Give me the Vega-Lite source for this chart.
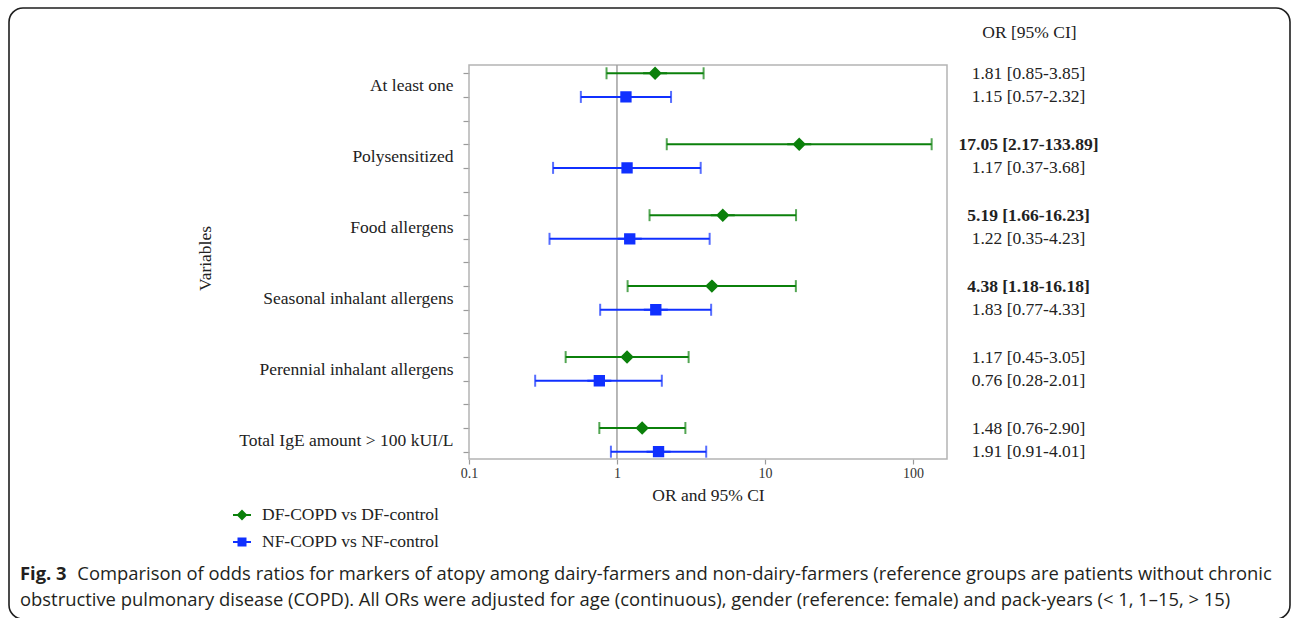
{
  "$schema": "https://vega.github.io/schema/vega-lite/v6.json",
  "width": 1281,
  "height": 611,
  "autosize": {"type": "none"},
  "padding": {"left": 9, "top": 8, "right": 2, "bottom": 0},
  "background": "white",
  "config": {
    "view": {"stroke": "#1e1e1e", "strokeWidth": 1.6, "cornerRadius": 14, "fill": "white"},
    "font": "Liberation Serif"
  },
  "title": {
    "text": "Fig. 3",
    "subtitle": [
      "\u200b\u00a0\u00a0\u00a0\u00a0\u00a0\u00a0\u00a0\u00a0\u00a0\u00a0\u00a0\u00a0Comparison of odds ratios for markers of atopy among dairy-farmers and non-dairy-farmers (reference groups are patients without chronic",
      "obstructive pulmonary disease (COPD). All ORs were adjusted for age (continuous), gender (reference: female) and pack-years (< 1, 1\u201315, > 15)"
    ],
    "orient": "bottom",
    "anchor": "start",
    "frame": "group",
    "offset": -54,
    "dx": 11,
    "font": "Open Sans",
    "fontWeight": "bold",
    "fontSize": 18.4,
    "color": "#231f20",
    "subtitleFont": "Open Sans",
    "subtitleFontSize": 18.4,
    "subtitleFontWeight": "normal",
    "subtitleColor": "#231f20",
    "subtitleLineHeight": 26,
    "subtitlePadding": -18.4
  },
  "data": {
    "values": [
      {"variable": "At least one", "comparison": "DF-COPD vs DF-control", "row": 1, "or": 1.81, "lo": 0.85, "hi": 3.85},
      {"variable": "At least one", "comparison": "NF-COPD vs NF-control", "row": 2, "or": 1.15, "lo": 0.57, "hi": 2.32},
      {"variable": "Polysensitized", "comparison": "DF-COPD vs DF-control", "row": 4, "or": 17.05, "lo": 2.17, "hi": 133.89},
      {"variable": "Polysensitized", "comparison": "NF-COPD vs NF-control", "row": 5, "or": 1.17, "lo": 0.37, "hi": 3.68},
      {"variable": "Food allergens", "comparison": "DF-COPD vs DF-control", "row": 7, "or": 5.19, "lo": 1.66, "hi": 16.23},
      {"variable": "Food allergens", "comparison": "NF-COPD vs NF-control", "row": 8, "or": 1.22, "lo": 0.35, "hi": 4.23},
      {"variable": "Seasonal inhalant allergens", "comparison": "DF-COPD vs DF-control", "row": 10, "or": 4.38, "lo": 1.18, "hi": 16.18},
      {"variable": "Seasonal inhalant allergens", "comparison": "NF-COPD vs NF-control", "row": 11, "or": 1.83, "lo": 0.77, "hi": 4.33},
      {"variable": "Perennial inhalant allergens", "comparison": "DF-COPD vs DF-control", "row": 13, "or": 1.17, "lo": 0.45, "hi": 3.05},
      {"variable": "Perennial inhalant allergens", "comparison": "NF-COPD vs NF-control", "row": 14, "or": 0.76, "lo": 0.28, "hi": 2.01},
      {"variable": "Total IgE amount > 100 kUI/L", "comparison": "DF-COPD vs DF-control", "row": 16, "or": 1.48, "lo": 0.76, "hi": 2.90},
      {"variable": "Total IgE amount > 100 kUI/L", "comparison": "NF-COPD vs NF-control", "row": 17, "or": 1.91, "lo": 0.91, "hi": 4.01}
    ]
  },
  "resolve": {
    "axis": {"x": "independent", "y": "independent"},
    "legend": {"color": "independent", "fill": "independent", "stroke": "independent", "shape": "independent"}
  },
  "layer": [
    {
      "data": {"values": [{}]},
      "mark": {"type": "rect", "fill": "transparent", "stroke": "#b4b4b4", "strokeWidth": 1.5},
      "encoding": {
        "x": {"datum": 0.1, "type": "quantitative", "scale": {"type": "log", "domain": [0.1, 170], "range": [460, 938], "nice": false}, "axis": null},
        "x2": {"datum": 170},
        "y": {"datum": 0.65, "type": "quantitative", "scale": {"type": "linear", "domain": [0.65, 17.31], "range": [57, 451], "nice": false, "zero": false}, "axis": null},
        "y2": {"datum": 17.31}
      }
    },
    {
      "data": {"values": [{}]},
      "mark": {"type": "rule", "color": "#a0a0a0", "strokeWidth": 1.5},
      "encoding": {
        "x": {"datum": 1, "type": "quantitative", "scale": {"type": "log", "domain": [0.1, 170], "range": [460, 938], "nice": false}, "axis": null},
        "y": {"datum": 0.65, "type": "quantitative", "scale": {"type": "linear", "domain": [0.65, 17.31], "range": [57, 451], "nice": false, "zero": false}, "axis": null},
        "y2": {"datum": 17.31}
      }
    },
    {
      "mark": {"type": "rule", "strokeWidth": 2},
      "encoding": {
        "x": {
          "field": "lo", "type": "quantitative",
          "scale": {"type": "log", "domain": [0.1, 170], "range": [460, 938], "nice": false},
          "axis": {
            "orient": "bottom", "offset": -160, "values": [0.1, 1, 10, 100],
            "labelExpr": "datum.value < 0.5 ? '0.1' : format(datum.value, 'd')",
            "domain": false, "grid": false, "ticks": true, "tickSize": 5, "tickColor": "#9a9a9a", "tickWidth": 1.2,
            "labelFont": "Liberation Serif", "labelFontSize": 14, "labelColor": "#333", "labelPadding": 2,
            "labelFlush": false, "labelOverlap": false, "labelBound": false,
            "title": "OR and 95% CI", "titleFont": "Liberation Serif", "titleFontSize": 17.5, "titleFontWeight": "normal",
            "titleColor": "#222", "titleY": 36, "titleBaseline": "middle"
          }
        },
        "x2": {"field": "hi"},
        "y": {
          "field": "row", "type": "quantitative",
          "scale": {"type": "linear", "domain": [0.65, 17.31], "range": [57, 451], "nice": false, "zero": false},
          "axis": {
            "orient": "left", "offset": -460,
            "values": [1, 2, 3, 4, 5, 6, 7, 8, 9, 10, 11, 12, 13, 14, 15, 16, 17],
            "labelExpr": "['', 'At least one', '', '', 'Polysensitized', '', '', 'Food allergens', '', '', 'Seasonal inhalant allergens', '', '', 'Perennial inhalant allergens', '', '', 'Total IgE amount > 100 kUI/L', ''][datum.value]",
            "labelOffset": 12, "labelPadding": 10, "labelFont": "Liberation Serif", "labelFontSize": 17.5, "labelColor": "#222",
            "labelFlush": false, "labelOverlap": false, "labelBound": false, "labelLimit": 400,
            "domain": false, "grid": false, "tickSize": 6, "tickColor": "#9a9a9a", "tickWidth": 1.2,
            "title": "Variables", "titleFont": "Liberation Serif", "titleFontSize": 17.5, "titleFontWeight": "normal", "titleColor": "#222",
            "titleAngle": -90, "titleX": -264, "titleY": 250, "titleAlign": "center", "titleBaseline": "middle"
          }
        },
        "color": {"field": "comparison", "type": "nominal", "scale": {"domain": ["DF-COPD vs DF-control", "NF-COPD vs NF-control"], "range": ["#0b800b", "#1030ff"]}, "legend": null}
      }
    },
    {
      "mark": {"type": "tick", "orient": "vertical", "size": 12, "thickness": 2},
      "encoding": {
        "x": {"field": "lo", "type": "quantitative", "scale": {"type": "log", "domain": [0.1, 170], "range": [460, 938], "nice": false}, "axis": null},
        "y": {"field": "row", "type": "quantitative", "scale": {"type": "linear", "domain": [0.65, 17.31], "range": [57, 451], "nice": false, "zero": false}, "axis": null},
        "color": {"field": "comparison", "type": "nominal", "scale": {"domain": ["DF-COPD vs DF-control", "NF-COPD vs NF-control"], "range": ["#0b800b", "#1030ff"]}, "legend": null}
      }
    },
    {
      "mark": {"type": "tick", "orient": "vertical", "size": 12, "thickness": 2},
      "encoding": {
        "x": {"field": "hi", "type": "quantitative", "scale": {"type": "log", "domain": [0.1, 170], "range": [460, 938], "nice": false}, "axis": null},
        "y": {"field": "row", "type": "quantitative", "scale": {"type": "linear", "domain": [0.65, 17.31], "range": [57, 451], "nice": false, "zero": false}, "axis": null},
        "color": {"field": "comparison", "type": "nominal", "scale": {"domain": ["DF-COPD vs DF-control", "NF-COPD vs NF-control"], "range": ["#0b800b", "#1030ff"]}, "legend": null}
      }
    },
    {
      "mark": {"type": "point", "filled": true, "opacity": 1, "size": 711, "strokeWidth": 2},
      "encoding": {
        "x": {"field": "or", "type": "quantitative", "scale": {"type": "log", "domain": [0.1, 170], "range": [460, 938], "nice": false}, "axis": null},
        "y": {
          "field": "row", "type": "quantitative",
          "scale": {"type": "linear", "domain": [0.65, 17.31], "range": [57, 451], "nice": false, "zero": false},
          "axis": {
            "orient": "right", "offset": -343,
            "values": [1, 2, 4, 5, 7, 8, 10, 11, 13, 14, 16, 17],
            "labelExpr": "['', '1.81 [0.85-3.85]', '1.15 [0.57-2.32]', '', '17.05 [2.17-133.89]', '1.17 [0.37-3.68]', '', '5.19 [1.66-16.23]', '1.22 [0.35-4.23]', '', '4.38 [1.18-16.18]', '1.83 [0.77-4.33]', '', '1.17 [0.45-3.05]', '0.76 [0.28-2.01]', '', '1.48 [0.76-2.90]', '1.91 [0.91-4.01]'][datum.value]",
            "labelFontWeight": {"condition": {"test": "datum.value == 4 || datum.value == 7 || datum.value == 10", "value": "bold"}, "value": "normal"},
            "labelAlign": "center", "labelBaseline": "middle", "labelPadding": 81,
            "labelFont": "Liberation Serif", "labelFontSize": 17.5, "labelColor": "#222",
            "labelFlush": false, "labelOverlap": false, "labelBound": false, "labelLimit": 400,
            "domain": false, "ticks": false, "tickSize": 0, "grid": false,
            "title": "OR [95% CI]", "titleFont": "Liberation Serif", "titleFontSize": 17.5, "titleFontWeight": "normal", "titleColor": "#222",
            "titleAngle": 0, "titleX": 82, "titleY": 24, "titleAlign": "center", "titleBaseline": "middle"
          }
        },
        "fill": {
          "field": "comparison", "type": "nominal",
          "scale": {"domain": ["DF-COPD vs DF-control", "NF-COPD vs NF-control"], "range": ["#0b800b", "#1030ff"]},
          "legend": {
            "orient": "none", "legendX": 222, "legendY": 496, "title": null, "padding": 0,
            "symbolSize": 400, "symbolStrokeWidth": 2, "rowPadding": 7,
            "labelFont": "Liberation Serif", "labelFontSize": 17.5, "labelColor": "#222", "labelOffset": 9, "labelLimit": 400
          }
        },
        "stroke": {
          "field": "comparison", "type": "nominal",
          "scale": {"domain": ["DF-COPD vs DF-control", "NF-COPD vs NF-control"], "range": ["#0b800b", "#1030ff"]},
          "legend": {
            "orient": "none", "legendX": 222, "legendY": 496, "title": null, "padding": 0,
            "symbolSize": 400, "symbolStrokeWidth": 2, "rowPadding": 7,
            "labelFont": "Liberation Serif", "labelFontSize": 17.5, "labelColor": "#222", "labelOffset": 9, "labelLimit": 400
          }
        },
        "shape": {
          "field": "comparison", "type": "nominal",
          "scale": {"domain": ["DF-COPD vs DF-control", "NF-COPD vs NF-control"], "range": ["M-0.9,0L0.9,0M0,-0.4L0.4,0L0,0.4L-0.4,0Z", "M-0.9,0L0.9,0M-0.35,-0.35L0.35,-0.35L0.35,0.35L-0.35,0.35Z"]},
          "legend": {
            "orient": "none", "legendX": 222, "legendY": 496, "title": null, "padding": 0,
            "symbolSize": 400, "symbolStrokeWidth": 2, "rowPadding": 7,
            "labelFont": "Liberation Serif", "labelFontSize": 17.5, "labelColor": "#222", "labelOffset": 9, "labelLimit": 400
          }
        }
      }
    }
  ]
}
